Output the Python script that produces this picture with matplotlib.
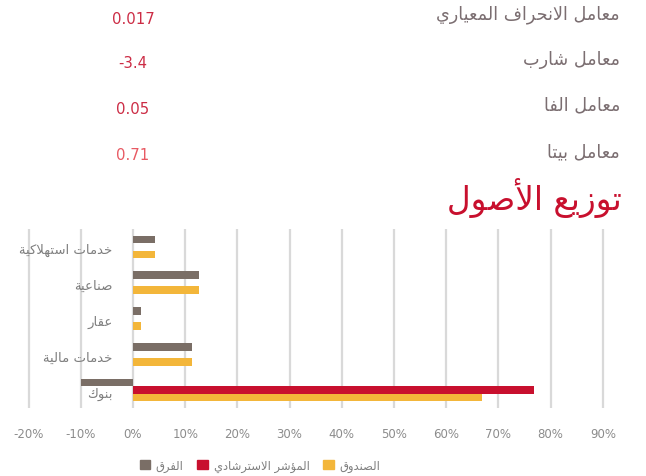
import matplotlib
matplotlib.use("Agg")
import matplotlib.pyplot as plt
from matplotlib.patches import Patch
import numpy as np

# ---------------- data ----------------
categories = ["خدمات استهلاكية", "صناعية", "عقار", "خدمات مالية", "بنوك"]
fund = [4.2, 12.6, 1.5, 11.3, 66.9]
benchmark = [0.0, 0.0, 0.0, 0.0, 76.8]
difference = [4.2, 12.6, 1.5, 11.3, -9.9]
series_names = ["الفرق", "المؤشر الاسترشادي", "الصندوق"]
xticks = [-20, -10, 0, 10, 20, 30, 40, 50, 60, 70, 80, 90]

stat_labels = ["معامل الانحراف المعياري", "معامل شارب", "معامل الفا", "معامل بيتا"]
stat_values = ["0.017", "-3.4", "0.05", "0.71"]
title = "توزيع الأصول"

# ---------------- arabic shaping ----------------
_DUAL = {
    'ئ': 0xFE89, 'ب': 0xFE8F, 'ت': 0xFE95, 'ث': 0xFE99, 'ج': 0xFE9D, 'ح': 0xFEA1,
    'خ': 0xFEA5, 'س': 0xFEB1, 'ش': 0xFEB5, 'ص': 0xFEB9, 'ض': 0xFEBD, 'ط': 0xFEC1,
    'ظ': 0xFEC5, 'ع': 0xFEC9, 'غ': 0xFECD, 'ف': 0xFED1, 'ق': 0xFED5, 'ك': 0xFED9,
    'ل': 0xFEDD, 'م': 0xFEE1, 'ن': 0xFEE5, 'ه': 0xFEE9, 'ي': 0xFEF1,
}
_RIGHT = {
    'آ': 0xFE81, 'أ': 0xFE83, 'ؤ': 0xFE85, 'إ': 0xFE87, 'ا': 0xFE8D, 'ة': 0xFE93,
    'د': 0xFEA9, 'ذ': 0xFEAB, 'ر': 0xFEAD, 'ز': 0xFEAF, 'و': 0xFEED, 'ى': 0xFEEF,
}
_NONE = {'ء': 0xFE80}
_LAMALEF = {'آ': 0xFEF5, 'أ': 0xFEF7, 'إ': 0xFEF9, 'ا': 0xFEFB}


def _joins(c):
    return c in _DUAL or c in _RIGHT


def shape(text):
    out = []
    chars = list(text)
    i = 0
    n = len(chars)
    while i < n:
        c = chars[i]
        prev = chars[i - 1] if i > 0 else None
        jp = prev is not None and prev in _DUAL
        if c == 'ل' and i + 1 < n and chars[i + 1] in _LAMALEF:
            base = _LAMALEF[chars[i + 1]]
            out.append(chr(base + (1 if jp else 0)))
            i += 2
            if i < n:
                chars[i - 1] = 'ا'
            continue
        nxt = chars[i + 1] if i + 1 < n else None
        jn = nxt is not None and _joins(nxt)
        if c in _DUAL:
            b = _DUAL[c]
            if jp and jn:
                out.append(chr(b + 3))
            elif jp:
                out.append(chr(b + 1))
            elif jn:
                out.append(chr(b + 2))
            else:
                out.append(chr(b))
        elif c in _RIGHT:
            b = _RIGHT[c]
            out.append(chr(b + 1 if jp else b))
        elif c in _NONE:
            out.append(chr(_NONE[c]))
        else:
            out.append(c)
        i += 1
    return "".join(reversed(out))


plt.rcParams['font.family'] = ['DejaVu Sans']

W, H = 646, 477
fig = plt.figure(figsize=(W / 100, H / 100), dpi=100)

# ---------------- axes ----------------
x0, x1 = -20.5, 90.5
pxu = 52.2 / 10
left_px = 133 + x0 * pxu
right_px = 133 + x1 * pxu
ax = fig.add_axes([left_px / W, 1 - 409 / H, (right_px - left_px) / W, (409 - 230) / H])

c_diff = "#7a6e66"
c_bench = "#c8102e"
c_fund = "#f3b63a"

y = np.arange(len(categories))
h = 0.21
ax.barh(y - h, difference, height=h, color=c_diff, zorder=3)
ax.barh(y, benchmark, height=h, color=c_bench, zorder=3)
ax.barh(y + h, fund, height=h, color=c_fund, zorder=3)

ax.set_xlim(x0, x1)
ax.set_ylim(len(categories) - 0.5, -0.5)
ax.set_xticks(xticks)
ax.set_xticklabels([f"{t}%" for t in xticks], color="#8c8c8c", fontsize=8.5)
ax.tick_params(axis='x', length=0, pad=14)
ax.set_yticks([])
ax.grid(axis='x', color="#d9d9d9", linewidth=1.6, zorder=0)
for s in ax.spines.values():
    s.set_visible(False)

for yi, cat in zip(y, categories):
    ax.text(-3.9, yi + 0.08, shape(cat), ha='right', va='center', fontsize=9.5,
            color="#7f7f7f", zorder=4)

# ---------------- legend ----------------
handles = [Patch(color=c_diff), Patch(color=c_bench), Patch(color=c_fund)]
fig.legend(handles, [shape(s) for s in series_names], loc='center', ncol=3,
           bbox_to_anchor=(260 / W, 1 - 466 / H), frameon=False, fontsize=8.3,
           handlelength=0.9, handleheight=0.9, handletextpad=0.5, columnspacing=1.2,
           labelcolor="#7f7f7f")

# ---------------- stats block ----------------
label_ys = [15, 60, 105, 152]
value_colors = ["#cc2c45", "#cc2c45", "#cc2c45", "#e85a63"]
for lab, val, yy, vc in zip(stat_labels, stat_values, label_ys, value_colors):
    fig.text(620 / W, 1 - yy / H, shape(lab), ha='right', va='center', fontsize=12.7,
             color="#7b6e71")
    fig.text(133 / W, 1 - (yy + 4) / H, val, ha='center', va='center', fontsize=10.7,
             color=vc)

fig.text(622 / W, 1 - 198 / H, shape(title), ha='right', va='center', fontsize=23.5,
         color="#c8102e")

fig.savefig("out.png", dpi=100)
